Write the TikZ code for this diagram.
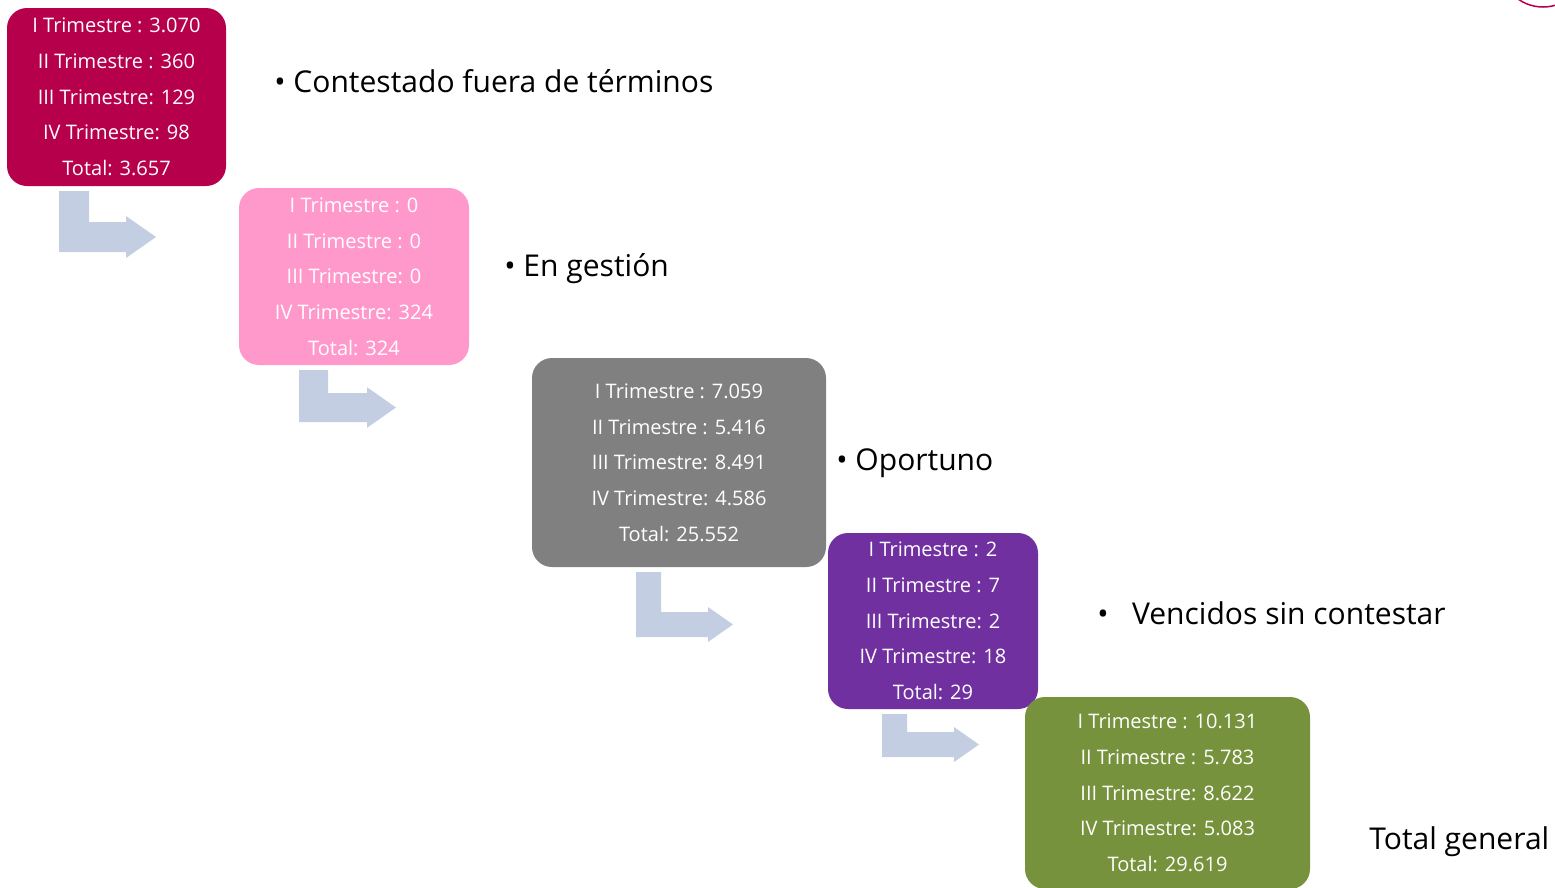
\documentclass[tikz,border=0pt]{standalone}
\usepackage{fontspec}
\setmainfont{Open Sans}
\usepackage{tikz}
\usetikzlibrary{positioning,calc}

\definecolor{crimsonbox}{RGB}{182,0,76}
\definecolor{pinkbox}{RGB}{255,153,204}
\definecolor{graybox}{RGB}{128,128,128}
\definecolor{purplebox}{RGB}{112,48,160}
\definecolor{greenbox}{RGB}{118,146,60}
\definecolor{arrcol}{RGB}{196,206,226}

\begin{document}
\begin{tikzpicture}[
  x=0.02cm, y=-0.02cm,
  qbox/.style={rounded corners=0.4cm, text=white, align=center,
               font=\fontsize{11.4}{20.3}\selectfont, inner sep=0pt},
  blabel/.style={anchor=base west, inner sep=0pt, font=\fontsize{17.1}{20}\selectfont},
  pics/bentarr/.style 2 args={code={
    \fill[arrcol] (0,0) -- (#2,0) -- (#2,#1) -- ({97-#2},#1)
      -- ({97-#2},{#1-0.2*#2}) -- (97,{#1+0.5*#2}) -- ({97-#2},{#1+1.2*#2})
      -- ({97-#2},{#1+#2}) -- (0,{#1+#2}) -- cycle;
  }},
]
\useasboundingbox (0,0) rectangle (1555,887);
\clip (0,0) rectangle (1555,887);

% cajas por trimestre
\node[qbox, fill=crimsonbox, minimum width=219*0.02cm, minimum height=178*0.02cm] (fuera) at (116.5,97)
  {I Trimestre : 3.070\\II Trimestre : 360\\III Trimestre: 129\\IV Trimestre: 98\\Total: 3.657};
\node[qbox, fill=pinkbox, minimum width=230*0.02cm, minimum height=177*0.02cm] (gestion) at (354,276.5)
  {I Trimestre : 0\\II Trimestre : 0\\III Trimestre: 0\\IV Trimestre: 324\\Total: 324};
\node[qbox, fill=graybox, minimum width=294*0.02cm, minimum height=209*0.02cm] (oportuno) at (679,462.5)
  {I Trimestre : 7.059\\II Trimestre : 5.416\\III Trimestre: 8.491\\IV Trimestre: 4.586\\Total: 25.552};
\node[qbox, fill=purplebox, minimum width=210*0.02cm, minimum height=176*0.02cm] (vencidos) at (933,621)
  {I Trimestre : 2\\II Trimestre : 7\\III Trimestre: 2\\IV Trimestre: 18\\Total: 29};
\node[qbox, fill=greenbox, minimum width=285*0.02cm, minimum height=192*0.02cm] (total) at (1167.5,793)
  {I Trimestre : 10.131\\II Trimestre : 5.783\\III Trimestre: 8.622\\IV Trimestre: 5.083\\Total: 29.619};

% etiquetas
\node[blabel] (lfuera)    at (274,92)   {• Contestado fuera de términos};
\node[blabel] (lgestion)  at (504,276)  {• En gestión};
\node[blabel] (loportuno) at (836,470)  {• Oportuno};
\node[blabel] (lvencidos) at (1097,624) {•\hspace{0.78em}Vencidos sin contestar};
\node[blabel] (ltotal)    at (1369,849) {Total general};

% flechas
\pic at (59,191)  {bentarr={31}{30}};
\pic at (299,370) {bentarr={23}{29}};
\pic at (636,572) {bentarr={40}{25}};
\pic at (882,714) {bentarr={18}{25}};

\draw[crimsonbox, line width=1.5*0.02cm] (1543,-36) circle[radius=43];
\end{tikzpicture}
\end{document}
